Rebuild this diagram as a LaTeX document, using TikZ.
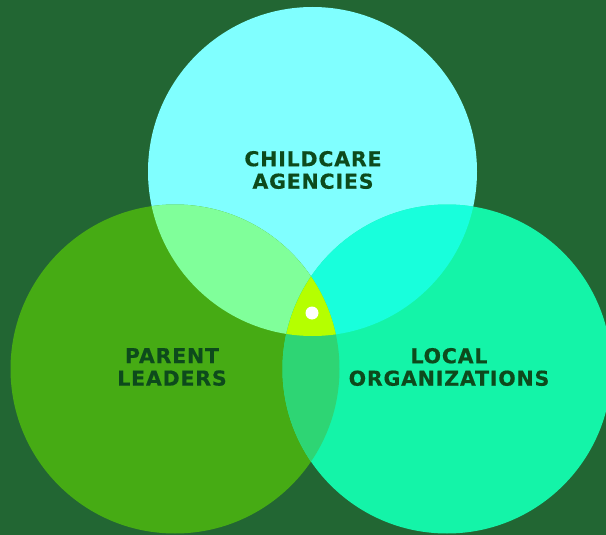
\documentclass[tikz,border=0pt]{standalone}
\usepackage{fontspec}
\setmainfont{DejaVu Sans}
\definecolor{bg}{HTML}{226633}
\definecolor{ctop}{HTML}{80FFFF}
\definecolor{cleft}{HTML}{46AB14}
\definecolor{cright}{HTML}{14F4A8}
\definecolor{ctl}{HTML}{80FF9A}
\definecolor{ctr}{HTML}{18FFDC}
\definecolor{clr}{HTML}{2ED574}
\definecolor{call}{HTML}{B5FF00}
\definecolor{txt}{HTML}{0D4A1C}
\begin{document}
\begin{tikzpicture}[x=1pt,y=-1pt,
  lbl/.style={font=\fontsize{20.5}{22.5}\selectfont\bfseries\addfontfeature{LetterSpace=4,FakeBold=0.4}, text=txt, align=center, inner sep=0pt}]
\useasboundingbox (0,0) rectangle (606,535);
\clip (0,0) rectangle (606,535);
\fill[bg] (0,0) rectangle (606,535);
\def\T{(312.5,171.5) circle (164.5)}
\def\L{(175,369) circle (164.5)}
\def\R{(447,369) circle (164.5)}
\fill[ctop] \T;
\fill[cleft] \L;
\fill[cright] \R;
\begin{scope}\clip \T; \fill[ctl] \L; \fill[ctr] \R; \end{scope}
\begin{scope}\clip \L; \fill[clr] \R; \end{scope}
\begin{scope}\clip \T; \clip \L; \fill[call] \R; \end{scope}
\fill[white] (312,313) circle (6.5);
\node[lbl] (top) at (313,170) {CHILDCARE\\AGENCIES};
\node[lbl] (left) at (172,367) {PARENT\\LEADERS};
\node[lbl] (right) at (449,367) {LOCAL\\ORGANIZATIONS};
\end{tikzpicture}
\end{document}
